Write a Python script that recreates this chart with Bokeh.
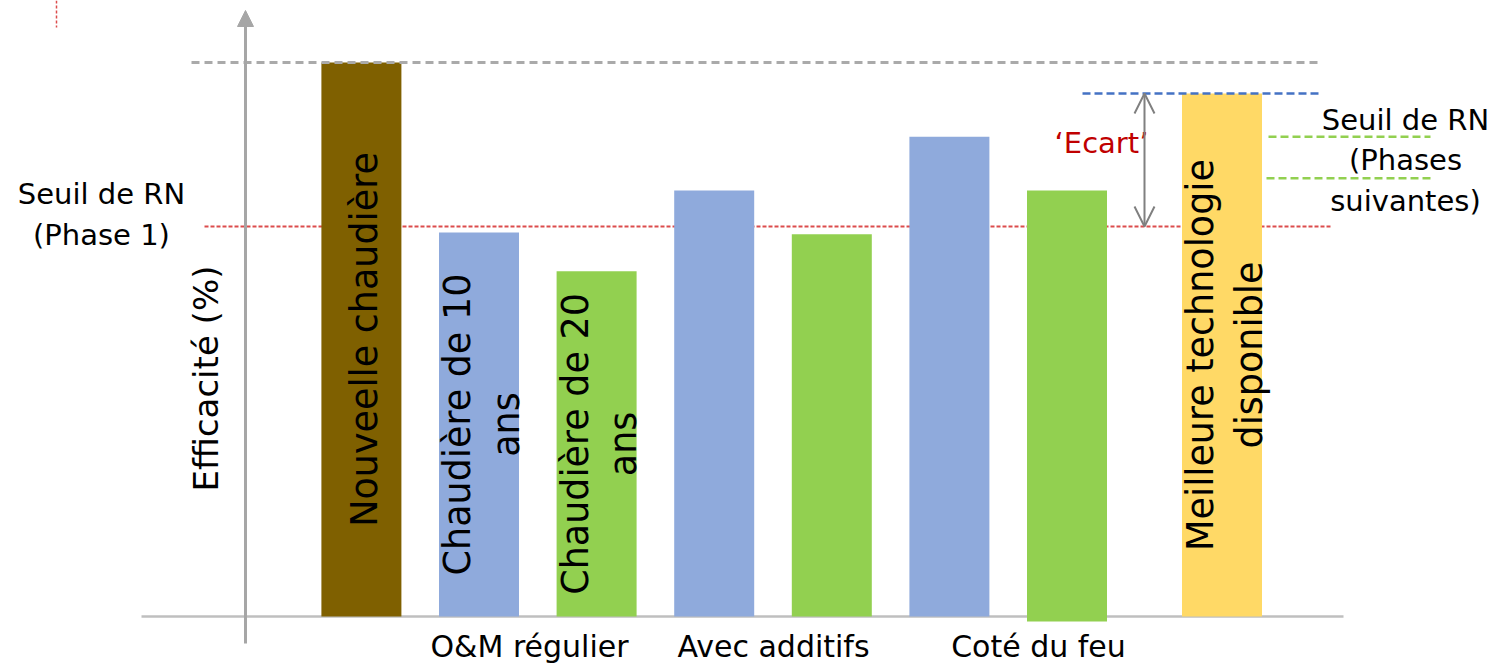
import numpy as np
from bokeh.plotting import figure
from bokeh.models import Range1d, Arrow, NormalHead, OpenHead, ColumnDataSource
from bokeh.core.properties import value
from bokeh.embed import file_html
from bokeh.resources import INLINE

# ---------------- data ----------------
bar_labels = ["Nouveelle chaudière", "Chaudière de 10\nans", "Chaudière de 20\nans",
              "", "", "", "", "Meilleure technologie\ndisponible"]
efficacite = [100.0, 69.3, 62.3, 76.9, 69.0, 86.6, 76.9, 94.4]
bar_base = [0.0, 0.0, 0.0, 0.0, 0.0, 0.0, -0.9, 0.0]
bar_colors = ["#7F6000", "#8FAADC", "#92D050", "#8FAADC", "#92D050",
              "#8FAADC", "#92D050", "#FFD966"]
group_labels = ["O&M régulier", "Avec additifs", "Coté du feu"]
seuil_phase1 = 70.4
seuils_suivants = [86.6, 79.1]
meilleure_tech = 94.4
nouvelle_ref = 100.0

# ---------------- layout (pixel reference -> data) ----------------
SLOT0_PX, SLOT_PX = 360.9, 117.6
BASE_PX, UNIT_PX = 616.0, 5.54
W, H = 1511, 671


def px_x(px):
    return (px - SLOT0_PX) / SLOT_PX


def px_y(py):
    return (BASE_PX - py) / UNIT_PX


bar_pos = [0, 1, 2, 3, 4, 5, 6, px_x(1221.5)]
bar_width = 80.0 / SLOT_PX
LABEL_DX = 3.0 / SLOT_PX
FONT = value("DejaVu Sans")

p = figure(width=W, height=H, output_backend="svg", toolbar_location=None,
           x_range=Range1d(px_x(0), px_x(W)), y_range=Range1d(px_y(H), px_y(0)),
           x_axis_location=None, y_axis_location=None, min_border=0)
p.grid.visible = False
p.outline_line_color = None
p.background_fill_color = "white"
p.border_fill_color = "white"

# red dotted threshold (behind bars)
p.line([px_x(204), px_x(1331)], [seuil_phase1] * 2, line_color="#DC4C4C",
       line_width=2, line_dash="4 2")
# small red dotted mark top-left
p.line([px_x(56), px_x(56)], [px_y(0), px_y(27)], line_color="#DC4C4C",
       line_width=1.5, line_dash="3 2")

# x axis line
p.line([px_x(141), px_x(1343)], [0, 0], line_color="#BFBFBF", line_width=2.5)

# bars
src = ColumnDataSource(dict(x=bar_pos, top=efficacite, bottom=bar_base, color=bar_colors))
p.vbar(x="x", top="top", bottom="bottom", width=bar_width, fill_color="color",
       line_color=None, source=src)

# dashed reference lines
p.line([px_x(191), px_x(1318)], [nouvelle_ref] * 2, line_color="#AAAAAA",
       line_width=3, line_dash="8 5")
p.line([px_x(1082), px_x(1318)], [meilleure_tech] * 2, line_color="#4472C4",
       line_width=2.5, line_dash="8 4")
p.line([px_x(1268), px_x(1430)], [seuils_suivants[0]] * 2, line_color="#92D050",
       line_width=2.5, line_dash="8 4")
p.line([px_x(1266), px_x(1432)], [seuils_suivants[1]] * 2, line_color="#92D050",
       line_width=2.5, line_dash="8 4")

# y axis with arrow
p.add_layout(Arrow(end=NormalHead(size=16, fill_color="#A6A6A6", line_color="#A6A6A6"),
                   x_start=px_x(245), y_start=px_y(643), x_end=px_x(245), y_end=px_y(10),
                   line_color="#A6A6A6", line_width=3))

# 'Ecart' double arrow
p.add_layout(Arrow(start=OpenHead(size=20, line_color="#808080", line_width=2),
                   end=OpenHead(size=20, line_color="#808080", line_width=2),
                   x_start=px_x(1144), y_start=seuil_phase1,
                   x_end=px_x(1144), y_end=meilleure_tech,
                   line_color="#808080", line_width=2))

# bar labels (vertical)
lab_x = [bar_pos[i] + LABEL_DX for i in range(len(bar_labels)) if bar_labels[i]]
lab_y = [efficacite[i] / 2 for i in range(len(bar_labels)) if bar_labels[i]]
lab_t = [t for t in bar_labels if t]
p.text(x=lab_x, y=lab_y, text=lab_t, angle=np.pi / 2, text_align="center",
       text_baseline="middle", text_font=FONT, text_font_size="36.5px",
       text_color="black", text_line_height=1.12)

# axis title
p.text(x=[px_x(205)], y=[px_y(378)], text=["Efficacité (%)"], angle=np.pi / 2,
       text_align="center", text_baseline="middle", text_font=FONT,
       text_font_size="34px", text_color="black")

# group labels
p.text(x=[px_x(529), px_x(773), px_x(1038)], y=[px_y(646)] * 3, text=group_labels,
       text_align="center", text_baseline="middle", text_font=FONT,
       text_font_size="30px", text_color="black")

# threshold labels
p.text(x=[px_x(101)], y=[px_y(214)], text=["Seuil de RN\n(Phase 1)"],
       text_align="center", text_baseline="middle", text_font=FONT,
       text_font_size="29px", text_color="black", text_line_height=1.2)
p.text(x=[px_x(1405)], y=[px_y(160)], text=["Seuil de RN\n(Phases\nsuivantes)"],
       text_align="center", text_baseline="middle", text_font=FONT,
       text_font_size="29px", text_color="black", text_line_height=1.2)

# 'Ecart'
p.text(x=[px_x(1101)], y=[px_y(142)], text=["\u2018Ecart\u2019"],
       text_align="center", text_baseline="middle", text_font=FONT,
       text_font_size="29px", text_color="#C00000")

open("out.html", "w").write(file_html(p, INLINE))
